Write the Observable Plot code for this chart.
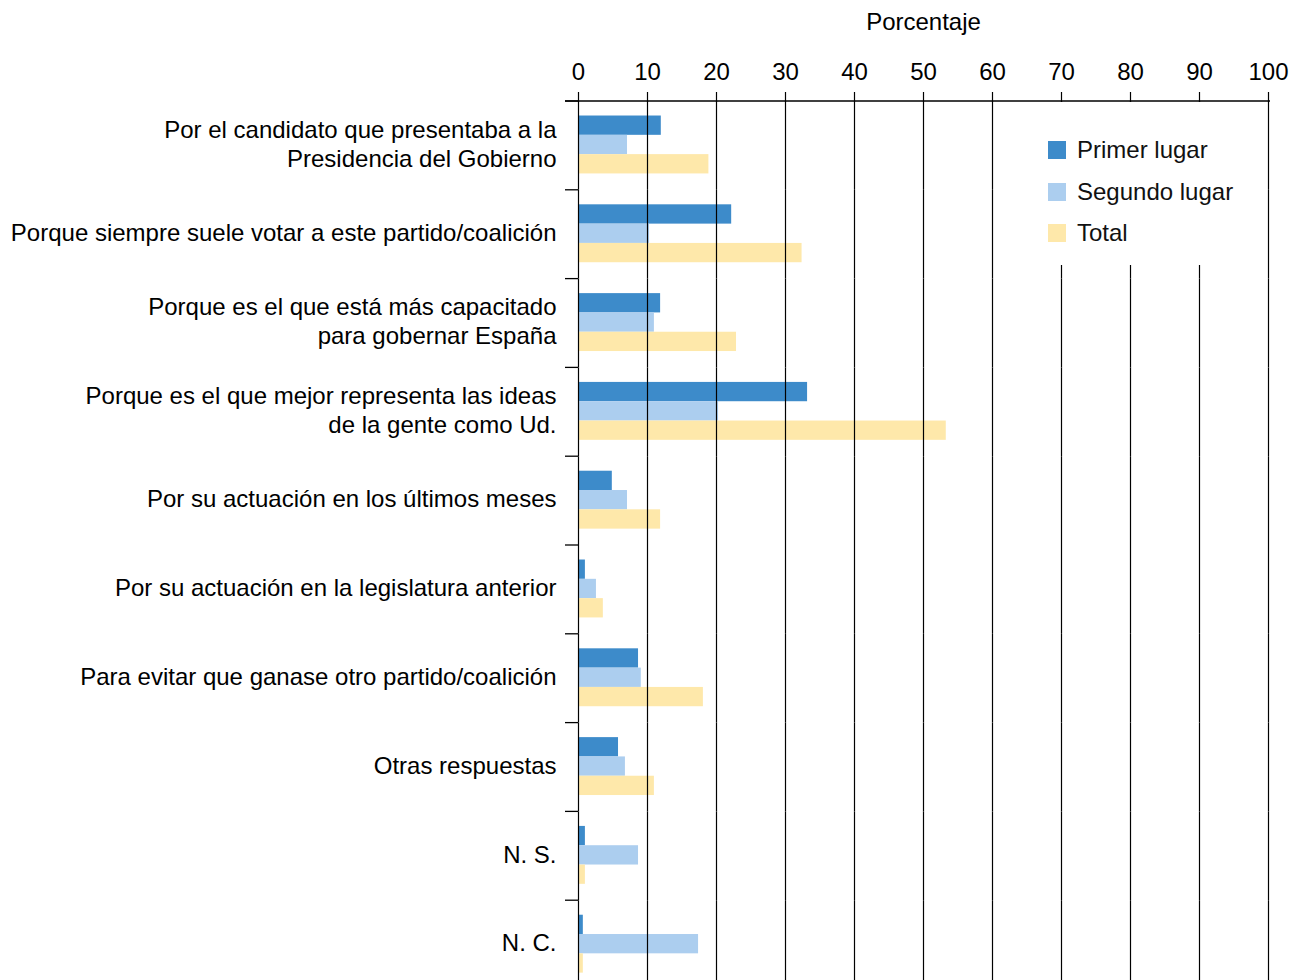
<!DOCTYPE html>
<html><head><meta charset="utf-8">
<script src="https://cdn.jsdelivr.net/npm/d3@7"></script>
<script src="https://cdn.jsdelivr.net/npm/@observablehq/plot@0.6"></script>
<style>
body{margin:0;background:#fff;overflow:hidden;font-family:"Liberation Sans",Arial,sans-serif}
#wrap{position:relative;width:1301px;height:980px;overflow:hidden}
#legend{position:absolute;left:1035px;top:102px;width:220px;height:163px;background:#fff}
.item{position:absolute;left:13px;height:24px;display:flex;align-items:center;font-size:24px;color:#111;white-space:nowrap}
.sw{width:18px;height:18px;margin-right:11px;flex:none}
</style></head><body>
<div id="wrap"><div id="chart"></div><div id="legend"></div></div>
<script>
const categories = [
  "Por el candidato que presentaba a la\nPresidencia del Gobierno",
  "Porque siempre suele votar a este partido/coalición",
  "Porque es el que está más capacitado\npara gobernar España",
  "Porque es el que mejor representa las ideas\nde la gente como Ud.",
  "Por su actuación en los últimos meses",
  "Por su actuación en la legislatura anterior",
  "Para evitar que ganase otro partido/coalición",
  "Otras respuestas",
  "N. S.",
  "N. C."
];
const series = ["Primer lugar", "Segundo lugar", "Total"];
const primer  = [12.0, 22.2, 11.9, 33.2, 4.9, 1.0, 8.7, 5.8, 1.0, 0.7];
const segundo = [7.1, 10.3, 11.0, 20.3, 7.1, 2.6, 9.1, 6.8, 8.7, 17.4];
const total   = [18.9, 32.4, 22.9, 53.3, 11.9, 3.6, 18.1, 11.0, 1.0, 0.7];
const xTicks = [0, 10, 20, 30, 40, 50, 60, 70, 80, 90, 100];
const colors = ["#3d8bca", "#acceef", "#fee8aa"];

const seriesValues = [primer, segundo, total];
const rows = [];
categories.forEach((c, i) => series.forEach((s, j) => rows.push({category: c, series: s, value: seriesValues[j][i]})));

const font = '"Liberation Sans", Arial, sans-serif';
const plot = Plot.plot({
  width: 1301, height: 990,
  marginLeft: 578, marginRight: 33, marginTop: 101, marginBottom: 1,
  style: {fontFamily: font, fontSize: "24px", color: "#000", background: "#fff"},
  x: {domain: [0, 100], ticks: xTicks},
  fy: {domain: categories, padding: 0, round: false, label: null},
  y: {domain: series, paddingInner: 0, paddingOuter: 0.8, align: 0.47, round: false, axis: null},
  color: {domain: series, range: colors},
  marks: [
    Plot.barX(rows, {x: "value", y: "series", fy: "category", fill: "series"}),
    Plot.ruleX(xTicks, {stroke: "#000", strokeWidth: 1.2}),
    Plot.axisX({anchor: "top", ticks: xTicks, tickSize: 10, tickPadding: 12, fontSize: 24, strokeWidth: 1.2,
      label: "Porcentaje", labelAnchor: "center", labelArrow: "none", labelOffset: 89}),
    Plot.axisFy({anchor: "left", tickSize: 0, tickPadding: 22, fontSize: 24, lineHeight: 1.2, dy: -3, label: null})
  ]
});
document.getElementById("chart").appendChild(plot);

// top axis line and band-boundary ticks, placed with the plot's own scales
const fy = plot.scale("fy"), xs = plot.scale("x");
const g = d3.select(plot).append("g").attr("stroke", "#000").attr("stroke-width", 1.3);
const x0 = xs.apply(0);
const yTop = fy.apply(categories[0]);
g.append("line").attr("x1", x0 - 13).attr("x2", xs.apply(100) + 2).attr("y1", yTop).attr("y2", yTop);
categories.forEach(c => {
  const yy = fy.apply(c);
  g.append("line").attr("x1", x0 - 13).attr("x2", x0).attr("y1", yy).attr("y2", yy);
});

// legend
const legend = document.getElementById("legend");
series.forEach((s, i) => {
  const it = document.createElement("div");
  it.className = "item";
  it.style.top = (36 + i * 41.5) + "px";
  it.innerHTML = `<span class="sw" style="background:${colors[i]}"></span><span>${s}</span>`;
  legend.appendChild(it);
});
</script>
</body></html>
